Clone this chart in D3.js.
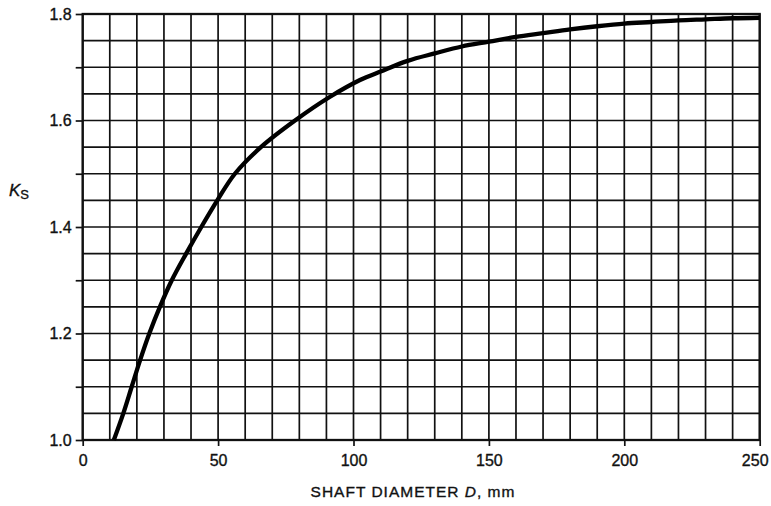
<!DOCTYPE html>
<html>
<head>
<meta charset="utf-8">
<script src="https://cdn.jsdelivr.net/npm/d3@7"></script>
<style>
  html, body { margin: 0; padding: 0; background: #fff; }
  svg text { font-family: "Liberation Sans", Arial, Helvetica, sans-serif; fill: #111; }
</style>
</head>
<body>
<svg id="chart" width="771" height="506"></svg>
<script>
// Size factor Ks versus shaft diameter D (mm)
const diameter = [11.5, 15, 18.1, 21.2, 24.6, 28.5, 32.9, 38.2, 43.8, 49.7, 56.2, 65.8, 78.4, 91.5,
                  102.4, 110, 120, 130, 140, 150, 160, 170, 180, 190, 200, 210, 220, 230, 240, 250];
const ks       = [1.0, 1.05, 1.1, 1.15, 1.2, 1.25, 1.3, 1.35, 1.4, 1.45, 1.5, 1.55, 1.6, 1.645,
                  1.676, 1.692, 1.712, 1.726, 1.739, 1.748, 1.757, 1.764, 1.771, 1.777, 1.782, 1.785, 1.788, 1.790, 1.792, 1.793];

const xTickLabels = [0, 50, 100, 150, 200, 250];
const yTickLabels = [1.0, 1.2, 1.4, 1.6, 1.8];

const svg = d3.select("#chart");
const x = d3.scaleLinear().domain([0, 250]).range([82.7, 759.7]);
const y = d3.scaleLinear().domain([1.0, 1.8]).range([440, 14]);

const ink = "#111";
const thicken = sel => sel.attr("stroke", ink).attr("stroke-width", 0.35);

// grid: every 10 mm and every 0.05
const g = svg.append("g");
g.selectAll("line.v").data(d3.range(0, 251, 10)).join("line")
  .attr("x1", d => x(d)).attr("x2", d => x(d))
  .attr("y1", y(1.0)).attr("y2", y(1.8))
  .attr("stroke", ink).attr("stroke-width", 1.7);
g.selectAll("line.h").data(d3.range(0, 17).map(i => 1 + i * 0.05)).join("line")
  .attr("x1", x(0)).attr("x2", x(250))
  .attr("y1", d => y(d)).attr("y2", d => y(d))
  .attr("stroke", ink).attr("stroke-width", 1.7);

// frame
svg.append("rect")
  .attr("x", x(0)).attr("y", y(1.8))
  .attr("width", x(250) - x(0)).attr("height", y(1.0) - y(1.8))
  .attr("fill", "none").attr("stroke", ink).attr("stroke-width", 2.3);

// axes with outward ticks
const xAxis = d3.axisBottom(x).tickValues(xTickLabels).tickSize(6).tickPadding(9)
  .tickFormat(d3.format("d"));
svg.append("g").attr("transform", `translate(0,${y(1.0)})`).call(xAxis)
  .call(a => a.select(".domain").remove())
  .call(a => a.selectAll("line").attr("stroke", ink).attr("stroke-width", 1.7))
  .call(a => a.selectAll("text").attr("font-size", 16).attr("fill", ink)
    .attr("font-family", "Liberation Sans, Arial, sans-serif")
    .attr("dx", d => d === 250 ? -5 : 0)
    .call(thicken));

const yAxis = d3.axisLeft(y).tickValues(d3.range(0, 9).map(i => 1 + i * 0.1)).tickSize(7).tickPadding(4)
  .tickFormat(d => yTickLabels.some(v => Math.abs(v - d) < 1e-6) ? d3.format(".1f")(d) : "");
svg.append("g").attr("transform", `translate(${x(0)},0)`).call(yAxis)
  .call(a => a.select(".domain").remove())
  .call(a => a.selectAll("line").attr("stroke", ink).attr("stroke-width", 1.7))
  .call(a => a.selectAll("text").attr("font-size", 16).attr("fill", ink)
    .attr("font-family", "Liberation Sans, Arial, sans-serif")
    .call(thicken));

// curve
const line = d3.line().x((d, i) => x(diameter[i])).y(d => y(d)).curve(d3.curveCatmullRom.alpha(0.5));
svg.append("path").datum(ks).attr("d", line)
  .attr("fill", "none").attr("stroke", "#000").attr("stroke-width", 4.3);

// axis titles
svg.append("text").attr("x", 413).attr("y", 497).attr("text-anchor", "middle")
  .attr("font-size", 15.5).attr("letter-spacing", 1.0)
  .call(thicken)
  .html('SHAFT DIAMETER <tspan font-style="italic">D</tspan>, mm');

const ksLabel = svg.append("text").attr("x", 9).attr("y", 196).attr("font-size", 17).call(thicken);
ksLabel.append("tspan").attr("font-style", "italic").text("K");
ksLabel.append("tspan").attr("font-size", 13).attr("dy", 3).text("S");
</script>
</body>
</html>
